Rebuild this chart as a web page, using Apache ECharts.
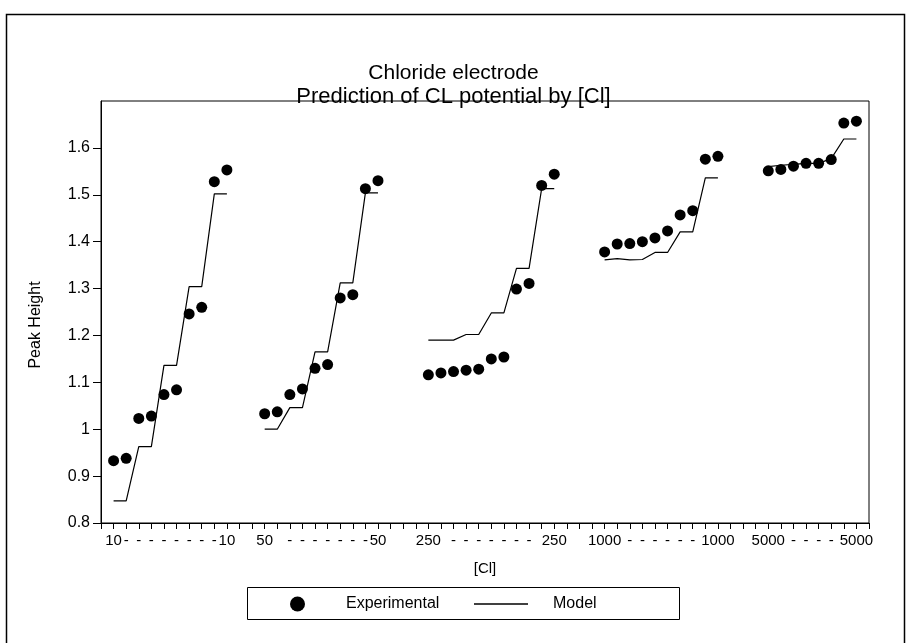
<!DOCTYPE html>
<html>
<head>
<meta charset="utf-8">
<title>Chloride electrode</title>
<script src="https://cdn.jsdelivr.net/npm/echarts@6/dist/echarts.min.js"></script>
<style>
  html, body { margin: 0; padding: 0; background: #fff; }
  #chart { width: 907px; height: 643px; }
</style>
</head>
<body>
<div id="chart"></div>
<script>
// Category ticks along [Cl]: one tick per measurement, blanks separate the concentration groups.
// Dash labels that would collide with a group's value label are left empty.
const xTickLabels = [
  '',
  '10', '-', '-', '-', '-', '-', '-', '-', '-', '10',
  '', '',
  '50', '', '-', '-', '-', '-', '-', '-', '-', '50',
  '', '', '',
  '250', '', '-', '-', '-', '-', '-', '-', '-', '', '250',
  '', '', '',
  '1000', '', '-', '-', '-', '-', '-', '-', '', '1000',
  '', '', '',
  '5000', '', '-', '-', '-', '-', '', '5000',
  ''
];

// Concentration groups, in axis order
const groups = ['10', '50', '250', '1000', '5000'];

// Measured peak heights per group
const exp10   = [0.933, 0.938, 1.023, 1.028, 1.074, 1.084, 1.246, 1.260, 1.528, 1.553];
const exp50   = [1.033, 1.037, 1.074, 1.086, 1.130, 1.138, 1.280, 1.287, 1.513, 1.530];
const exp250  = [1.116, 1.120, 1.123, 1.126, 1.128, 1.150, 1.154, 1.299, 1.311, 1.520, 1.544];
const exp1000 = [1.378, 1.395, 1.396, 1.400, 1.408, 1.423, 1.457, 1.466, 1.576, 1.582];
const exp5000 = [1.551, 1.554, 1.561, 1.567, 1.567, 1.575, 1.653, 1.657];

// Model predictions per group
const model10   = [0.847, 0.847, 0.963, 0.963, 1.136, 1.136, 1.304, 1.304, 1.502, 1.502];
const model50   = [1.000, 1.000, 1.046, 1.046, 1.165, 1.165, 1.312, 1.312, 1.504, 1.504];
const model250  = [1.190, 1.190, 1.190, 1.202, 1.202, 1.248, 1.248, 1.343, 1.343, 1.513, 1.513];
const model1000 = [1.361, 1.364, 1.361, 1.362, 1.377, 1.377, 1.421, 1.421, 1.536, 1.536];
const model5000 = [1.560, 1.563, 1.565, 1.567, 1.567, 1.577, 1.619, 1.619];

// Y-axis tick values
const yTicks = [0.8, 0.9, 1.0, 1.1, 1.2, 1.3, 1.4, 1.5, 1.6];

const expByGroup = [exp10, exp50, exp250, exp1000, exp5000];
const modelByGroup = [model10, model50, model250, model1000, model5000];

// Spread each group's values onto the category axis, starting at the group's first tick
function spread(perGroup) {
  const out = xTickLabels.map(() => null);
  groups.forEach((g, gi) => {
    const start = xTickLabels.indexOf(g);
    perGroup[gi].forEach((v, i) => { out[start + i] = v; });
  });
  return out;
}

const expData = spread(expByGroup);
const modelData = spread(modelByGroup);

const FONT = "'Liberation Sans', Arial, Helvetica, sans-serif";

const chart = echarts.init(document.getElementById('chart'), null, { renderer: 'canvas' });

chart.setOption({
  backgroundColor: '#fff',
  animation: false,
  title: {
    text: 'Chloride electrode',
    subtext: 'Prediction of CL potential by [Cl]',
    left: 'center',
    top: 63,
    itemGap: 2,
    padding: 0,
    textStyle: { fontFamily: FONT, fontSize: 21, fontWeight: 'normal', color: '#000' },
    subtextStyle: { fontFamily: FONT, fontSize: 22, color: '#000' }
  },
  grid: {
    left: 101, right: 38, top: 101, bottom: 120,
    show: true, borderColor: '#000', borderWidth: 1, backgroundColor: 'transparent'
  },
  legend: [
    {
      data: [{ name: 'Experimental', icon: 'circle' }],
      left: 290, top: 596, padding: 0,
      itemWidth: 15, itemHeight: 15,
      textStyle: { fontFamily: FONT, fontSize: 16, color: '#000', padding: [0, 0, 0, 36] },
      selectedMode: false
    },
    {
      data: [{ name: 'Model', icon: 'path://M0,0L40,0L40,1L0,1Z' }],
      left: 474, top: 596, padding: 0,
      itemWidth: 54, itemHeight: 15,
      symbolKeepAspect: true,
      textStyle: { fontFamily: FONT, fontSize: 16, color: '#000', padding: [0, 0, 0, 20] },
      selectedMode: false
    }
  ],
  xAxis: {
    type: 'category',
    data: xTickLabels,
    boundaryGap: false,
    name: '[Cl]',
    nameLocation: 'middle',
    nameGap: 38,
    nameTextStyle: { fontFamily: FONT, fontSize: 15, color: '#000' },
    axisLine: { lineStyle: { color: '#000', width: 1 } },
    axisTick: { interval: 0, length: 6, lineStyle: { color: '#000' } },
    axisLabel: { interval: 0, margin: 10, fontFamily: FONT, fontSize: 15, color: '#000' },
    splitLine: { show: false }
  },
  yAxis: {
    type: 'value',
    min: 0.8, max: 1.7, interval: 0.1,
    name: 'Peak Height',
    nameLocation: 'middle',
    nameGap: 57,
    nameTextStyle: { fontFamily: FONT, fontSize: 16, color: '#000', padding: [0, 26, 0, 0] },
    axisLine: { show: true, lineStyle: { color: '#000', width: 1 } },
    axisTick: { show: true, length: 8, customValues: yTicks, lineStyle: { color: '#000' } },
    axisLabel: {
      customValues: yTicks,
      margin: 11,
      fontFamily: FONT, fontSize: 16, color: '#000',
      formatter: v => String(parseFloat(Number(v).toFixed(2)))
    },
    splitLine: { show: false }
  },
  series: [
    {
      name: 'Experimental',
      type: 'scatter',
      data: expData,
      symbol: 'circle',
      symbolSize: 11,
      itemStyle: { color: '#000', opacity: 1 },
      z: 3
    },
    {
      name: 'Model',
      type: 'line',
      data: modelData,
      symbol: 'none',
      showSymbol: false,
      connectNulls: false,
      lineStyle: { color: '#000', width: 1.2 },
      itemStyle: { color: '#000' },
      z: 2
    }
  ],
  graphic: [
    {
      type: 'rect',
      shape: { x: 6.5, y: 14.5, width: 898, height: 650 },
      style: { fill: 'none', stroke: '#000', lineWidth: 1.5 },
      silent: true, z: 0
    },
    {
      type: 'rect',
      shape: { x: 247.5, y: 587.5, width: 432, height: 32 },
      style: { fill: 'none', stroke: '#000', lineWidth: 1 },
      silent: true, z: 0
    }
  ]
});
</script>
</body>
</html>
